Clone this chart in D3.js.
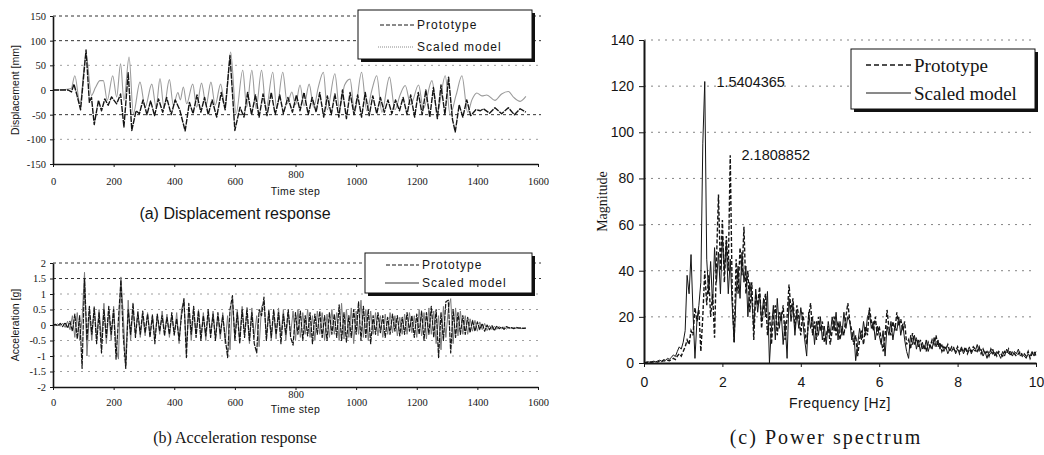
<!DOCTYPE html>
<html>
<head>
<meta charset="utf-8">
<script src="https://cdn.jsdelivr.net/npm/d3@7"></script>
<style>
  body { margin: 0; background: #fff; }
  svg { display: block; }
</style>
</head>
<body>
<svg id="chart" width="1044" height="455"></svg>
<script>
// ============== DATA ==============

// (a) displacement [mm] vs time step — turning points [t, value]
const dispProto = [
  [0,0],[50,0],[61,-4],[69,12],[78,-8],[91,-40],[109,81],[120,-25],[127,-15],[136,-70],
  [150,-21],[160,-42],[171,-18],[182,-31],[193,-14],[210,-28],[223,-8],[234,-75],[248,35],[260,-82],
  [274,-42],[285,-48],[297,-20],[310,-50],[322,-22],[335,-52],[348,-18],[362,-45],[375,-15],[390,-50],
  [403,-20],[418,-40],[436,-83],[450,-25],[462,-48],[475,-10],[488,-45],[500,-15],[512,-50],[525,-20],
  [540,-55],[555,-5],[568,-40],[584,70],[600,-82],[617,-35],[630,-55],[642,-5],[655,-50],[668,-10],
  [680,-55],[693,-8],[706,-52],[720,-5],[733,-50],[748,-10],[760,-48],[775,-15],[790,-45],[803,-10],
  [815,-42],[828,-5],[842,-50],[855,-15],[868,-45],[880,-5],[893,-55],[905,-12],[918,-50],[930,-8],
  [943,-55],[955,0],[968,-58],[980,-5],[993,-50],[1005,-10],[1018,-55],[1030,-5],[1043,-52],[1055,-12],
  [1068,-48],[1080,-15],[1093,-45],[1105,-20],[1118,-48],[1130,-20],[1143,-42],[1155,-15],[1168,-50],[1180,-10],
  [1193,-55],[1205,-5],[1218,-50],[1230,0],[1243,-55],[1255,5],[1268,-58],[1280,10],[1293,-50],[1305,26],
  [1318,-60],[1327,-85],[1340,-30],[1352,-55],[1365,-20],[1378,-52],[1395,-40],[1410,-42],[1420,-38],[1440,-47],
  [1458,-36],[1480,-48],[1502,-36],[1522,-50],[1541,-38],[1560,-45]
];
const dispScaled = [
  [0,0],[40,1],[60,3],[72,29],[89,-28],[109,73],[127,-11],[140,5],[155,19],[166,19],
  [179,-21],[197,29],[210,-14],[223,53],[234,-21],[251,67],[265,-48],[287,16],[304,-35],[326,12],
  [340,-35],[353,23],[366,-35],[384,21],[397,-31],[412,-5],[420,-20],[430,6],[441,-28],[461,12],
  [474,-35],[490,14],[505,-31],[521,16],[535,-31],[553,12],[568,-35],[586,77],[604,-48],[626,40],
  [639,-35],[656,40],[670,-38],[688,40],[703,-38],[725,36],[738,-38],[758,36],[773,-28],[788,-4],
  [800,-30],[815,10],[828,-32],[845,12],[860,-35],[875,5],[892,36],[905,-40],[930,33],[945,-38],
  [962,10],[980,22],[995,-45],[1018,36],[1035,-42],[1052,0],[1068,29],[1085,-45],[1110,26],[1128,-40],
  [1145,-10],[1162,9],[1180,-30],[1206,10],[1222,-38],[1250,19],[1268,-45],[1294,29],[1310,-50],[1330,-10],
  [1349,29],[1368,-45],[1382,-20],[1398,-6],[1415,-12],[1431,-10],[1458,-21],[1480,-8],[1502,-3],[1520,-15],
  [1541,-23],[1560,-13]
];

// (b) acceleration [g], one sample every ACC_DT time steps starting at 0
const ACC_DT = 8;
const accProto = [
  0,0.02,-0.03,0.05,-0.05,0.08,-0.1,0.12,-0.2,0.35,
  -0.45,0.3,-1.4,1.5,-0.5,0.6,-0.3,0.55,-0.6,0.4,
  -0.9,0.5,-0.4,0.6,-0.3,0.5,-1.1,0.2,1.45,-0.4,
  -1.4,0.5,-0.3,0.7,-0.4,0.4,-0.3,0.45,-0.25,0.35,
  -0.4,0.3,-0.6,0.35,-0.2,0.3,-0.35,0.25,-0.3,0.4,
  -0.3,0.2,-0.5,0.3,0.85,-1.05,0.7,-0.3,0.6,-0.4,
  0.45,-0.5,0.3,-0.35,0.5,-0.4,0.35,-0.5,0.4,-0.3,
  0.3,-0.4,-1.05,0.5,0.95,-0.5,0.4,-0.6,0.5,-0.4,
  0.55,-0.5,0.4,-0.6,-0.9,0.5,0.3,0.9,-0.5,0.45,
  -0.4,0.5,-0.3,0.4,-0.6,0.35,-0.3,0.5,-0.4,-0.65,
  0.4,-0.3,0.45,-0.5,0.3,-0.35,0.4,-0.6,0.35,-0.3,
  0.45,-0.4,0.3,-0.5,0.4,-0.3,0.35,-0.4,0.65,-0.5,
  0.4,-0.55,0.3,-0.4,0.5,-0.3,0.75,-0.5,0.6,-0.4,
  0.5,-0.6,0.3,-0.3,0.4,-0.25,0.3,-0.4,0.25,-0.3,
  0.35,-0.2,0.3,-0.35,0.25,-0.3,0.4,-0.2,0.3,-0.4,
  0.35,-0.3,0.45,-0.5,0.4,-0.3,0.6,-0.4,0.5,-1.05,
  0.4,-0.5,0.75,0.8,-0.9,0.5,-0.4,0.4,-0.3,0.3,
  -0.3,0.25,-0.25,0.15,-0.2,0.1,-0.15,0.05,-0.2,0.0,
  -0.15,-0.02,-0.18,-0.03,-0.12,-0.06,-0.14,-0.05,-0.1,-0.08,
  -0.12,-0.07,-0.1,-0.09,-0.11,-0.1
];
const accScaled = [
  0,-0.02,0.04,-0.04,0.06,-0.08,0.12,-0.15,0.3,-0.4,
  0.4,-0.5,0.2,1.7,-1.0,0.4,-0.5,0.6,-0.4,0.5,
  -0.5,0.7,-0.6,0.4,-0.5,0.6,-0.7,-1.1,1.55,0.3,
  -1.3,0.8,-0.5,0.5,-0.3,0.45,-0.4,0.3,-0.35,0.4,
  -0.3,0.35,-0.45,0.3,-0.3,0.45,-0.25,0.35,-0.4,0.3,
  -0.35,0.4,-0.6,0.5,0.8,-0.7,0.5,-0.5,0.4,-0.3,
  0.5,-0.4,0.4,-0.5,0.35,-0.3,0.45,-0.4,0.3,-0.45,
  0.4,-0.6,0.3,-0.8,0.8,-0.4,0.5,-0.5,0.6,-0.3,
  0.4,-0.6,0.55,-0.4,0.3,-0.7,0.6,0.7,-0.4,0.5,
  -0.5,0.4,-0.45,0.55,-0.35,0.5,-0.5,0.4,-0.3,0.45,
  -0.5,0.5,-0.4,0.4,-0.3,0.5,-0.4,0.3,-0.5,0.45,
  -0.3,0.4,-0.5,0.35,-0.4,0.5,-0.3,0.4,-0.5,0.7,
  -0.45,0.5,-0.4,0.55,-0.6,0.45,-0.3,0.8,-0.4,0.5,
  -0.5,0.45,-0.3,0.4,-0.35,0.3,-0.4,0.35,-0.3,0.4,
  -0.25,0.3,-0.35,0.25,-0.3,0.35,-0.3,0.4,-0.25,0.3,
  -0.4,0.5,-0.35,0.4,-0.45,0.55,-0.3,0.45,-0.6,0.3,
  -0.8,0.6,-0.4,0.5,0.85,-0.6,0.55,-0.35,0.45,-0.3,
  0.3,-0.3,0.2,-0.2,0.15,-0.2,0.1,-0.15,0.05,-0.18,
  -0.02,-0.15,-0.04,-0.14,-0.05,-0.12,-0.06,-0.13,-0.07,-0.11,
  -0.08,-0.11,-0.09,-0.12,-0.1,-0.1
];

// (c) power spectrum magnitude, one value every SPEC_DF Hz from 0 to 10
const SPEC_DF = 0.05;
const specProto = [
  0,0.2,0.3,0.4,0.3,0.5,0.6,0.4,0.8,0.6,1.0,
  0.8,1.2,1.0,1.5,2.0,1.5,3,4,3,5,
  7,10,8,14,12,24,18,23,5,20,
  40,25,38,20,30,11,45,73,40,62,
  35,55,40,90,30,9,45,30,50,38,
  59,30,40,22,35,10,30,25,33,15,
  25,30,12,22,8,20,25,12,22,18,
  25,10,20,34,22,28,15,25,20,12,
  22,15,8,20,26,12,18,10,20,14,
  18,9,12,16,8,14,20,12,18,10,
  16,12,20,26,18,14,8,12,3,10,
  14,8,16,12,24,18,14,20,12,16,
  10,5,12,23,15,12,18,14,22,16,
  19,14,18,8,10,6,13,8,11,7,
  10,6,8,5,9,7,10,8,12,7,
  9,5,7,6,8,5,7,6,5,7,
  4,6,5,7,4,6,5,7,6,5,
  7,4,6,4,5,3,6,4,5,3,
  5,4,3,5,4,6,3,5,4,3,
  4,5,3,4,3,5,2,4,5,3
];
const specScaled = [
  0,0.3,0.5,0.4,0.6,0.8,0.5,0.9,1.2,0.8,1.5,
  1.2,2.0,1.6,2.5,3.5,2.8,5,7,6,9,
  14,38,30,47,22,2,18,25,35,95,
  122,45,30,44,25,50,35,48,30,55,
  40,52,30,45,25,9,30,42,28,48,
  35,42,20,35,28,15,32,22,30,18,
  28,20,31,0,15,25,10,28,15,22,
  8,18,2,28,18,25,12,22,15,24,
  18,10,3,22,15,20,8,18,12,20,
  10,16,8,18,12,20,14,22,10,18,
  12,22,15,20,18,10,14,1,8,15,
  10,18,12,20,22,15,18,10,16,12,
  8,14,3,16,12,18,10,16,14,20,
  12,17,10,5,2,12,8,12,6,10,
  5,9,6,10,5,8,6,11,7,10,
  6,8,5,7,4,6,5,7,4,6,
  5,7,4,6,5,7,4,6,5,8,
  5,6,3,5,2,5,4,6,3,5,
  4,2,5,3,6,4,5,3,5,4,
  6,3,4,3,2,4,3,5,3,5
];
const specPeaks = [
  { f: 1.5404365, m: 122, label: '1.5404365' },
  { f: 2.1808852, m: 90,  label: '2.1808852' }
];

// ticks
const timeTicks = [0, 200, 400, 600, 800, 1000, 1200, 1400, 1600];
const dispTicks = [150, 100, 50, 0, -50, -100, -150];
const dispGrid  = [150, 100, 50, -50, -100];
const accTicks  = [2, 1.5, 1, 0.5, 0, -0.5, -1, -1.5, -2];
const accGrid   = [2, 1.5, 1, 0.5, -0.5, -1, -1.5];
const freqTicks = [0, 2, 4, 6, 8, 10];
const magTicks  = [0, 20, 40, 60, 80, 100, 120, 140];
const magGrid   = [20, 40, 60, 80, 100, 120, 140];
const seriesNames = ['Prototype', 'Scaled model'];

// ============== DRAWING ==============
const svg = d3.select('#chart');
const INK = '#151515';

function legendBox(g, box, rows, font) {
  g.append('rect').attr('x', box.x + 3).attr('y', box.y + 3)
    .attr('width', box.w).attr('height', box.h).attr('fill', '#111');
  g.append('rect').attr('x', box.x).attr('y', box.y)
    .attr('width', box.w).attr('height', box.h)
    .attr('fill', '#fff').attr('stroke', '#111').attr('stroke-width', 1);
  rows.forEach(r => {
    g.append('line').attr('x1', r.x1).attr('x2', r.x2).attr('y1', r.y).attr('y2', r.y)
      .attr('stroke', r.stroke).attr('stroke-width', r.width)
      .attr('stroke-dasharray', r.dash || null);
    g.append('text').attr('x', r.x2 + 3).attr('y', r.y).attr('dy', '0.35em')
      .attr('font-family', font.family).attr('font-size', font.size)
      .attr('letter-spacing', font.spacing || 0)
      .attr('fill', INK).text(r.label);
  });
}

function timePanel(cfg) {
  const g = svg.append('g');
  const x = d3.scaleLinear().domain([0, 1600]).range([53, 538]);
  const y = d3.scaleLinear().domain(cfg.yDomain).range(cfg.yRange);
  const [y0, y1] = [y(cfg.yDomain[0]), y(cfg.yDomain[1])];

  // grid
  g.append('g').selectAll('line').data(cfg.grid).join('line')
    .attr('x1', x(0)).attr('x2', 541).attr('y1', d => y(d)).attr('y2', d => y(d))
    .attr('stroke', d => cfg.darkGrid.includes(d) ? '#333' : '#888')
    .attr('stroke-width', d => cfg.darkGrid.includes(d) ? 1 : 0.8)
    .attr('stroke-dasharray', d => cfg.darkGrid.includes(d) ? '3,3' : '2,5');

  // series
  cfg.series.forEach(s => {
    const line = d3.line().x(d => x(d[0])).y(d => y(d[1])).curve(s.curve || d3.curveLinear);
    g.append('path').datum(s.data)
      .attr('fill', 'none').attr('stroke', s.stroke).attr('stroke-width', s.width)
      .attr('stroke-dasharray', s.dash || null).attr('stroke-linejoin', 'round')
      .attr('d', line);
  });

  // axes
  const ax = g.append('g').attr('transform', `translate(0,${y0})`)
    .call(d3.axisBottom(x).tickValues(timeTicks).tickSize(3).tickSizeOuter(0).tickPadding(cfg.xPad)
      .tickFormat(d => String(d)));
  const ay = g.append('g').attr('transform', `translate(${x(0)},0)`)
    .call(d3.axisLeft(y).tickValues(cfg.yTicks).tickSize(3).tickSizeOuter(0).tickPadding(4)
      .tickFormat(d => String(d)));
  [ax, ay].forEach(a => {
    a.attr('font-family', '"Liberation Serif", serif').attr('font-size', 10.5);
    a.selectAll('line').attr('stroke', INK);
    a.select('.domain').attr('stroke', INK).attr('stroke-width', 1.6);
    a.selectAll('text').attr('fill', INK);
  });
  // the "800" label sits a little higher, "Time step" sits under it
  ax.selectAll('.tick text').filter(d => d === 800).attr('y', cfg.y800);
  g.append('text').attr('x', x(800)).attr('y', y0 + cfg.xLabelDy).attr('dy', '0.35em')
    .attr('text-anchor', 'middle').attr('font-family', '"Liberation Sans", sans-serif')
    .attr('font-size', 10.5).attr('letter-spacing', 0.4).attr('fill', INK).text('Time step');

  g.append('text')
    .attr('transform', `translate(15,${(y0 + y1) / 2}) rotate(-90)`)
    .attr('text-anchor', 'middle').attr('dy', '0.35em')
    .attr('font-family', '"Liberation Sans", sans-serif').attr('font-size', cfg.yLabelSize)
    .attr('fill', INK).text(cfg.yLabel);

  legendBox(g, cfg.legend.box, cfg.legend.rows,
    { family: '"Liberation Sans", sans-serif', size: 12, spacing: 1 });

  g.append('text').attr('x', cfg.caption.x).attr('y', cfg.caption.y).attr('dy', '0.35em')
    .attr('text-anchor', 'middle').attr('font-family', cfg.caption.family)
    .attr('font-size', 16).attr('fill', INK).text(cfg.caption.text);
}

// (a) displacement
timePanel({
  yDomain: [-150, 150], yRange: [164, 16],
  yTicks: dispTicks, grid: dispGrid, darkGrid: [150, 100, -50],
  series: [
    { data: dispScaled, stroke: '#9a9a9a', width: 1.1, curve: d3.curveMonotoneX },
    { data: dispProto, stroke: INK, width: 1.4, dash: '6,1' }
  ],
  yLabel: 'Displacement [mm]', yLabelSize: 10.5,
  xPad: 11, y800: 7, xLabelDy: 27,
  legend: {
    box: { x: 358, y: 10, w: 174, h: 49 },
    rows: [
      { x1: 380, x2: 414, y: 25, stroke: INK, width: 1, dash: '4,2', label: seriesNames[0] },
      { x1: 378, x2: 414, y: 47, stroke: '#8a8a8a', width: 1, dash: '1,1', label: seriesNames[1] }
    ]
  },
  caption: { text: '(a) Displacement response', x: 235, y: 213, family: '"Liberation Sans", sans-serif' }
});

// (b) acceleration
timePanel({
  yDomain: [-2, 2], yRange: [387, 263],
  yTicks: accTicks, grid: accGrid, darkGrid: [2, 1.5],
  series: [
    { data: accScaled.map((v, i) => [i * ACC_DT, v]), stroke: '#7a7a7a', width: 1 },
    { data: accProto.map((v, i) => [i * ACC_DT, v]), stroke: INK, width: 1.2, dash: '5,1' }
  ],
  yLabel: 'Acceleration [g]', yLabelSize: 10.5,
  xPad: 9, y800: 4, xLabelDy: 22,
  legend: {
    box: { x: 365, y: 253, w: 167, h: 40 },
    rows: [
      { x1: 386, x2: 419, y: 265, stroke: INK, width: 1.2, dash: '4,2', label: seriesNames[0] },
      { x1: 385, x2: 419, y: 283, stroke: '#333', width: 1, label: seriesNames[1] }
    ]
  },
  caption: { text: '(b) Acceleration response', x: 235, y: 437, family: '"Liberation Serif", serif' }
});

// (c) power spectrum
(function spectrum() {
  const g = svg.append('g');
  const x = d3.scaleLinear().domain([0, 10]).range([644, 1036]);
  const y = d3.scaleLinear().domain([0, 140]).range([363, 40]);

  g.append('g').selectAll('line').data(magGrid).join('line')
    .attr('x1', x(0)).attr('x2', x(10)).attr('y1', d => y(d)).attr('y2', d => y(d))
    .attr('stroke', '#777').attr('stroke-width', 0.9).attr('stroke-dasharray', '2,5');

  const line = d3.line().x((d, i) => x(i * SPEC_DF)).y(d => y(d));
  g.append('path').datum(specScaled)
    .attr('fill', 'none').attr('stroke', INK).attr('stroke-width', 1).attr('d', line);
  g.append('path').datum(specProto)
    .attr('fill', 'none').attr('stroke', INK).attr('stroke-width', 1.4)
    .attr('stroke-dasharray', '4,2').attr('d', line);

  const ax = g.append('g').attr('transform', `translate(0,${y(0)})`)
    .call(d3.axisBottom(x).tickValues(freqTicks).tickSize(4).tickSizeOuter(0).tickPadding(10)
      .tickFormat(d => String(d)));
  const ay = g.append('g').attr('transform', `translate(${x(0)},0)`)
    .call(d3.axisLeft(y).tickValues(magTicks).tickSize(5).tickSizeOuter(0).tickPadding(5)
      .tickFormat(d => String(d)));
  [ax, ay].forEach(a => {
    a.attr('font-family', '"Liberation Sans", sans-serif').attr('font-size', 14);
    a.selectAll('line').attr('stroke', INK);
    a.select('.domain').attr('stroke', INK).attr('stroke-width', 2);
    a.selectAll('text').attr('fill', INK);
  });

  g.append('text').attr('transform', `translate(602,${y(70)}) rotate(-90)`)
    .attr('text-anchor', 'middle').attr('dy', '0.35em')
    .attr('font-family', '"Liberation Serif", serif').attr('font-size', 14)
    .attr('fill', INK).text('Magnitude');
  g.append('text').attr('x', x(5)).attr('y', 403).attr('dy', '0.35em')
    .attr('text-anchor', 'middle').attr('font-family', '"Liberation Sans", sans-serif')
    .attr('font-size', 14).attr('letter-spacing', 0.5).attr('fill', INK).text('Frequency [Hz]');

  // peak annotations
  g.selectAll('.peak').data(specPeaks).join('text')
    .attr('class', 'peak')
    .attr('x', d => x(d.f) + 12).attr('y', d => y(d.m)).attr('dy', '0.35em')
    .attr('font-family', '"Liberation Sans", sans-serif').attr('font-size', 14.5)
    .attr('fill', INK).text(d => d.label);

  legendBox(g, { x: 851, y: 49, w: 184, h: 60 }, [
    { x1: 866, x2: 911, y: 65, stroke: INK, width: 1.4, dash: '5,3', label: seriesNames[0] },
    { x1: 866, x2: 911, y: 93, stroke: INK, width: 1, label: seriesNames[1] }
  ], { family: '"Liberation Serif", serif', size: 19 });

  g.append('text').attr('x', 826).attr('y', 437).attr('dy', '0.35em')
    .attr('text-anchor', 'middle').attr('font-family', '"Liberation Serif", serif')
    .attr('font-size', 20).attr('letter-spacing', 2).attr('fill', INK).text('(c) Power spectrum');
})();
</script>
</body>
</html>
